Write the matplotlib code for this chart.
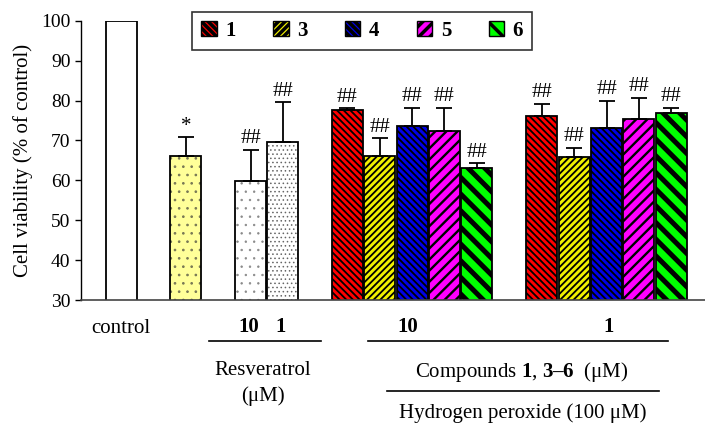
import matplotlib
matplotlib.use("Agg")
import matplotlib.pyplot as plt
from matplotlib.patches import Patch
from matplotlib.lines import Line2D

# data
control_val = [100.0]
h2o2_val = [66.2]
h2o2_err = [4.6]
resv_val = [59.7, 69.7]
resv_err = [8.0, 9.8]
resv_marks = ["##", "##"]
comp_names = ["1", "3", "4", "5", "6"]
comp10_val = [77.6, 66.2, 73.5, 72.3, 63.2]
comp10_err = [0.4, 4.3, 4.6, 5.8, 1.1]
comp1_val = [76.1, 65.9, 73.2, 75.4, 76.8]
comp1_err = [3.0, 2.3, 6.8, 5.3, 1.3]
comp_marks = ["##"] * 5

comp_colors = ["#ff0000", "#f0f000", "#0000e8", "#ff00ff", "#00ff00"]
comp_hatch = ["\\\\\\\\\\", "/////", "\\\\\\\\\\", "///", "\\\\"]
comp_hlw = [1.3, 1.3, 1.3, 1.7, 3.6]

plt.rcParams["font.family"] = ["Liberation Serif", "DejaVu Serif"]
plt.rcParams["mathtext.fontset"] = "custom"
plt.rcParams["mathtext.rm"] = "Liberation Serif"
plt.rcParams["mathtext.bf"] = "Liberation Serif:bold"

fig = plt.figure(figsize=(7.05, 4.23), dpi=100)
ax = fig.add_axes([81 / 705, 1 - 300 / 423, 1 - 81 / 705, (300 - 20.7) / 423])

W = 0.96


def draw(x, vals, errs, colors, hatches, hlws, marks, hcol="black"):
    for i in range(len(vals)):
        plt.rcParams["hatch.linewidth"] = hlws[i]
        b = ax.bar(x[i], vals[i], width=W, color=colors[i],
                   edgecolor=hcol, linewidth=0, hatch=hatches[i], zorder=2)
        for p in b:
            if hasattr(p, "set_hatch_linewidth"):
                p.set_hatch_linewidth(hlws[i])
        ax.bar(x[i], vals[i], width=W, fill=False, edgecolor="black",
               linewidth=1.3, zorder=2.5)
        if errs is not None:
            ax.errorbar(x[i], vals[i], yerr=[[0], [errs[i]]], fmt="none",
                        ecolor="black", elinewidth=1.3, capsize=5.5,
                        capthick=1.3, zorder=3)
            ax.text(x[i], vals[i] + errs[i] + 0.4, marks[i], ha="center",
                    va="bottom", fontsize=15)


# x positions in bar-width units
x_control = [1.25]
x_h2o2 = [3.25]
x_resv = [5.25 + i for i in range(2)]
x_c10 = [8.25 + i for i in range(5)]
x_c1 = [14.27 + i for i in range(5)]

draw(x_control, control_val, None, ["white"], [None], [1.0], None)
draw(x_h2o2, h2o2_val, h2o2_err, ["#ffff99"], [".."], [0.7], ["*"],
     hcol="#777755")
draw(x_resv[:1], resv_val[:1], resv_err[:1], ["white"], [".."], [0.5],
     resv_marks[:1], hcol="#888888")
draw(x_resv[1:], resv_val[1:], resv_err[1:], ["white"], ["...."], [0.6],
     resv_marks[1:], hcol="#666666")
draw(x_c10, comp10_val, comp10_err, comp_colors, comp_hatch, comp_hlw, comp_marks)
draw(x_c1, comp1_val, comp1_err, comp_colors, comp_hatch, comp_hlw, comp_marks)

ax.set_xlim(0, 624 / 32.3)
ax.set_ylim(30, 100)
ax.set_yticks(range(30, 101, 10))
ax.tick_params(axis="y", direction="out", length=4, width=1, labelsize=14)
ax.set_xticks([])
ax.spines["top"].set_visible(False)
ax.spines["right"].set_visible(False)
ax.spines["left"].set_linewidth(1)
ax.spines["bottom"].set_linewidth(1.2)
ax.spines["bottom"].set_color("#444444")
ax.set_ylabel("Cell viability (% of control)", fontsize=15, labelpad=6)

# legend
handles = []
for i in range(5):
    plt.rcParams["hatch.linewidth"] = comp_hlw[i] * 0.7
    h = Patch(facecolor=comp_colors[i], edgecolor="black", hatch=comp_hatch[i],
              linewidth=1)
    if hasattr(h, "set_hatch_linewidth"):
        h.set_hatch_linewidth(comp_hlw[i] * 0.7)
    handles.append(h)
leg = fig.legend(handles, comp_names, loc="center", ncol=5,
                 bbox_to_anchor=(362 / 705, 1 - 31 / 423),
                 prop={"weight": "bold", "size": 15}, frameon=True,
                 fancybox=False, edgecolor="black", handlelength=0.75,
                 handleheight=0.75, handletextpad=0.4, columnspacing=1.8,
                 borderpad=0.45)
leg.get_frame().set_linewidth(1.2)


# bottom labels
def ft(px, py, s, **kw):
    fig.text(px / 705, 1 - py / 423, s, ha="center", va="center",
             fontsize=15, **kw)


def fl(x0, x1, py):
    fig.add_artist(Line2D([x0 / 705, x1 / 705], [1 - py / 423] * 2,
                          color="black", linewidth=1.2))


ft(121, 328, "control")
ft(249, 327, "10", weight="bold")
ft(281, 327, "1", weight="bold")
fl(209, 321, 341)
ft(408, 327, "10", weight="bold")
ft(609, 327, "1", weight="bold")
fl(368, 668, 341)
ft(263, 370, "Resveratrol")
ft(263, 396, "(μM)")
ft(522, 372, r"Compounds $\mathbf{1}$, $\mathbf{3–6}$  (μM)")
fl(387, 659, 391)
ft(523, 413, "Hydrogen peroxide (100 μM)")

fig.savefig("out.png", dpi=100)
